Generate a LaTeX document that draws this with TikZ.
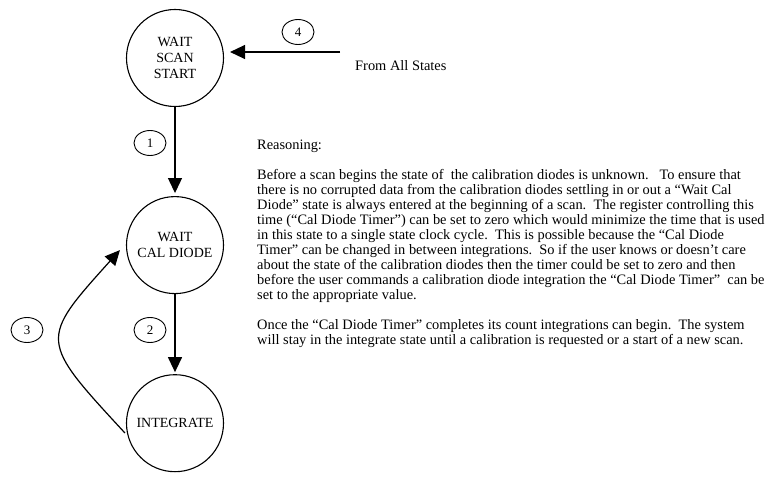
\documentclass[tikz,border=0pt]{standalone}
\usepackage{fontspec}
\setmainfont{Liberation Serif}
\usetikzlibrary{positioning,arrows.meta,shapes.geometric}

\begin{document}
\begin{tikzpicture}[
            x=1pt, y=1pt,
            state/.style={circle, draw=black, line width=1.1pt, minimum size=97pt,
                          inner sep=0pt, align=center, font=\fontsize{14}{16}\selectfont},
            tag/.style={ellipse, draw=black, line width=0.9pt, minimum width=32pt,
                        minimum height=25pt, inner sep=0pt, font=\fontsize{13}{14}\selectfont},
            arrow/.style={line width=1.2pt, -{Triangle[length=15pt,width=14pt]}}
        ]
        \useasboundingbox (0,0) rectangle (769,480);
        \node[state] (scan) at (175,422) {WAIT\\SCAN\\START};
        \node[state, below=89pt of scan] (caldiode) {WAIT\\CAL DIODE};
        \node[state, below=80pt of caldiode] (integ) {INTEGRATE};

        \node[tag] (tag1) at (150,337) {1};
        \node[tag] (tag2) at (150,150) {2};
        \node[tag] (tag3) at (27,150) {3};
        \node[tag] (tag4) at (298,448) {4};

        \coordinate (src) at (340,428);
        \coordinate (bend) at (39,140);
        \node[anchor=west, inner sep=0pt, font=\fontsize{14.4}{15}\selectfont] (fromall) at (355,414) {From All States};

        \node[anchor=north west, align=left, inner sep=0pt,
              font=\fontsize{14.4}{15}\selectfont] (reasoning) at (257,340) {%
            Reasoning:\\[15pt]
            Before a scan begins the state of\ \ the calibration diodes is unknown.\ \ \ To ensure that\\
            there is no corrupted data from the calibration diodes settling in or out a “Wait Cal\\
            Diode” state is always entered at the beginning of a scan.\ \ The register controlling this\\
            time (“Cal Diode Timer”) can be set to zero which would minimize the time that is used\\
            in this state to a single state clock cycle.\ \ This is possible because the “Cal Diode\\
            Timer” can be changed in between integrations.\ \ So if the user knows or doesn’t care\\
            about the state of the calibration diodes then the timer could be set to zero and then\\
            before the user commands a calibration diode integration the “Cal Diode Timer”\ \ can be\\
            set to the appropriate value.\\[15pt]
            Once the “Cal Diode Timer” completes its count integrations can begin.\ \ The system\\
            will stay in the integrate state until a calibration is requested or a start of a new scan.};

        \draw[arrow, shorten >=3pt] (scan) -- (caldiode);
        \draw[arrow, shorten >=2pt] (caldiode) -- (integ);
        \draw[arrow, shorten >=6pt] (src) -- (src -| scan.east);
        \draw[arrow, shorten <=4pt, shorten >=9pt] (integ.195) .. controls (bend) and (bend) .. (caldiode.178);
\end{tikzpicture}
\end{document}
